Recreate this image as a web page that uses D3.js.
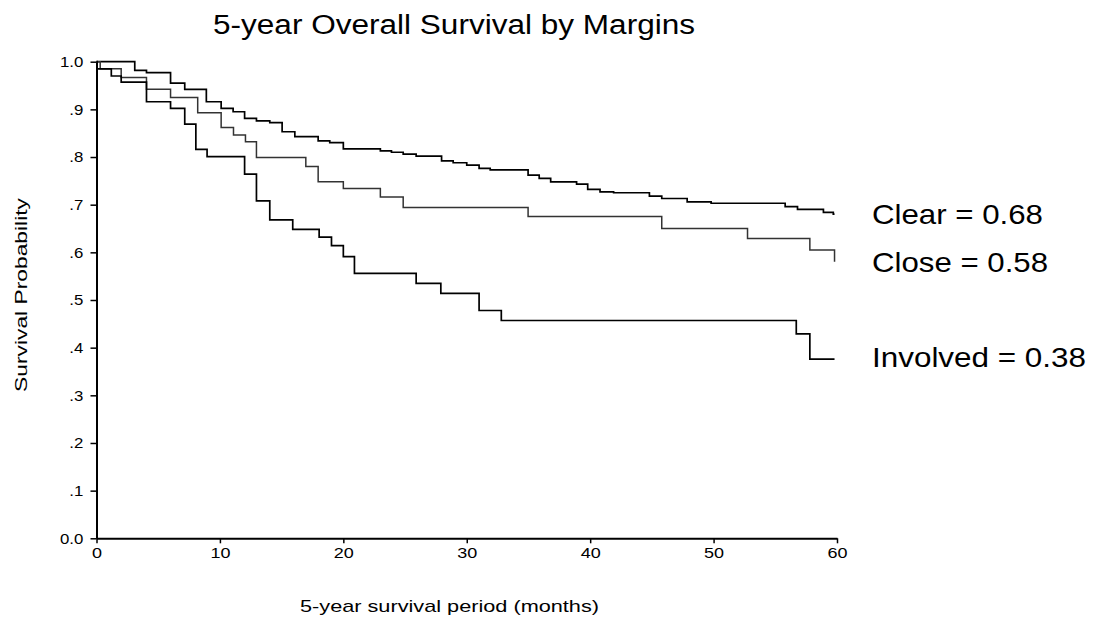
<!DOCTYPE html>
<html>
<head>
<meta charset="utf-8">
<script src="https://cdn.jsdelivr.net/npm/d3@7/dist/d3.min.js"></script>
<style>
  html, body { margin: 0; padding: 0; background: #fff; }
  svg { display: block; font-family: "Liberation Sans", Arial, Helvetica, sans-serif; }
</style>
</head>
<body>
<svg id="chart" width="1103" height="636"></svg>
<script>
// ---- Data ----
const seriesNames = ["Clear", "Close", "Involved"];
const endLabels = ["Clear = 0.68", "Close = 0.58", "Involved = 0.38"];

const clearTimes = [0, 3.1, 4.05, 6.0, 7.15, 8.9, 10.1, 11.07, 12.0, 12.96, 14.04, 15.04, 16.07, 17.96, 18.9, 20.0, 23.0, 23.9, 24.85, 25.9, 27.96, 28.9, 30.0, 31.0, 31.9, 34.97, 35.87, 36.8, 38.9, 39.8, 40.8, 41.9, 44.8, 45.8, 47.86, 49.8, 55.8, 56.8, 58.9, 59.7, 59.8];
const clearSurv  = [1.0, 0.982, 0.977, 0.955, 0.942, 0.916, 0.902, 0.895, 0.881, 0.876, 0.872, 0.853, 0.843, 0.834, 0.830, 0.817, 0.813, 0.810, 0.806, 0.802, 0.792, 0.788, 0.783, 0.776, 0.773, 0.762, 0.755, 0.748, 0.743, 0.732, 0.727, 0.725, 0.718, 0.713, 0.706, 0.703, 0.696, 0.690, 0.684, 0.680, 0.680];

const closeTimes = [0, 0.3, 2.0, 4.05, 6.0, 8.2, 10.1, 11.1, 12.07, 12.96, 16.96, 17.96, 20.0, 23.0, 24.85, 34.97, 45.8, 52.75, 57.8, 59.8];
const closeSurv  = [1.0, 0.985, 0.967, 0.942, 0.925, 0.893, 0.862, 0.846, 0.832, 0.799, 0.780, 0.748, 0.734, 0.716, 0.694, 0.675, 0.650, 0.629, 0.605, 0.580];

const involvedTimes = [0, 0.05, 1.2, 2.0, 4.05, 6.0, 7.15, 8.05, 8.96, 12.0, 12.96, 14.04, 15.9, 18.04, 19.04, 20.0, 20.9, 25.9, 27.9, 31.0, 32.8, 56.7, 57.8, 59.8];
const involvedSurv  = [1.0, 0.985, 0.970, 0.957, 0.916, 0.902, 0.869, 0.816, 0.801, 0.764, 0.708, 0.668, 0.648, 0.632, 0.614, 0.591, 0.556, 0.535, 0.514, 0.478, 0.457, 0.429, 0.376, 0.376];

const xTickValues = [0, 10, 20, 30, 40, 50, 60];
const yTickValues = [0, 0.1, 0.2, 0.3, 0.4, 0.5, 0.6, 0.7, 0.8, 0.9, 1.0];
const yTickLabels = ["0.0", ".1", ".2", ".3", ".4", ".5", ".6", ".7", ".8", ".9", "1.0"];

const titleText = "5-year Overall Survival by Margins";
const xTitle = "5-year survival period (months)";
const yTitle = "Survival Probability";

// ---- Layout ----
const svg = d3.select("#chart");
const x = d3.scaleLinear().domain([0, 60]).range([96.5, 837]);
const y = d3.scaleLinear().domain([0, 1]).range([538.3, 61.7]);

// Axes
const yAxis = d3.axisLeft(y).tickValues(yTickValues)
  .tickFormat((d, i) => yTickLabels[i]).tickSize(6).tickSizeOuter(0);
const gy = svg.append("g").attr("transform", `translate(${x(0)},0)`).call(yAxis);
gy.select(".domain").attr("stroke", "#000").attr("stroke-width", 2);
gy.selectAll(".tick line").attr("stroke", "#000").attr("stroke-width", 1.5);
gy.selectAll(".tick text").attr("fill", "#000").style("font-size", "14px")
  .attr("x", -11).attr("dy", "0.35em").attr("transform", "scale(1.2,1)");

const xAxis = d3.axisBottom(x).tickValues(xTickValues).tickFormat(d3.format("d"))
  .tickSize(5).tickSizeOuter(0);
const gx = svg.append("g").attr("transform", `translate(0,${y(0)})`).call(xAxis);
gx.select(".domain").attr("stroke", "#000").attr("stroke-width", 2);
gx.selectAll(".tick line").attr("stroke", "#000").attr("stroke-width", 1.5);
gx.selectAll(".tick text").attr("fill", "#000").style("font-size", "15px")
  .attr("y", 9).attr("dy", "0.71em").attr("transform", "scale(1.2,1)");

// Curves
const series = [
  { name: seriesNames[0], t: clearTimes, s: clearSurv, color: "#000", w: 1.7 },
  { name: seriesNames[1], t: closeTimes, s: closeSurv, color: "#333", w: 1.5 },
  { name: seriesNames[2], t: involvedTimes, s: involvedSurv, color: "#000", w: 1.7 }
];
const line = d3.line().x(d => x(d[0])).y(d => y(d[1])).curve(d3.curveStepAfter);
svg.append("g").selectAll("path").data(series).join("path")
  .attr("d", d => line(d.t.map((t, i) => [t, d.s[i]])))
  .attr("fill", "none").attr("stroke", d => d.color).attr("stroke-width", d => d.w);

// End labels
const labelPos = [
  { x: 872, y: 223.5, len: 171 },
  { x: 872, y: 272, len: 176 },
  { x: 872, y: 367, len: 214 }
];
svg.append("g").selectAll("text").data(endLabels).join("text")
  .attr("x", (d, i) => labelPos[i].x).attr("y", (d, i) => labelPos[i].y)
  .attr("textLength", (d, i) => labelPos[i].len).attr("lengthAdjust", "spacingAndGlyphs")
  .style("font-size", "28px").attr("fill", "#000").text(d => d);

// Title
svg.append("text").attr("x", 213).attr("y", 34)
  .attr("textLength", 482).attr("lengthAdjust", "spacingAndGlyphs")
  .style("font-size", "27px").attr("fill", "#000").text(titleText);

// Axis titles
svg.append("text").attr("x", 300).attr("y", 612)
  .attr("textLength", 299).attr("lengthAdjust", "spacingAndGlyphs")
  .style("font-size", "17px").attr("fill", "#000").text(xTitle);

svg.append("text").attr("transform", "translate(27,392) rotate(-90)")
  .attr("x", 0).attr("y", 0)
  .attr("textLength", 194).attr("lengthAdjust", "spacingAndGlyphs")
  .style("font-size", "17px").attr("fill", "#000").text(yTitle);
</script>
</body>
</html>
